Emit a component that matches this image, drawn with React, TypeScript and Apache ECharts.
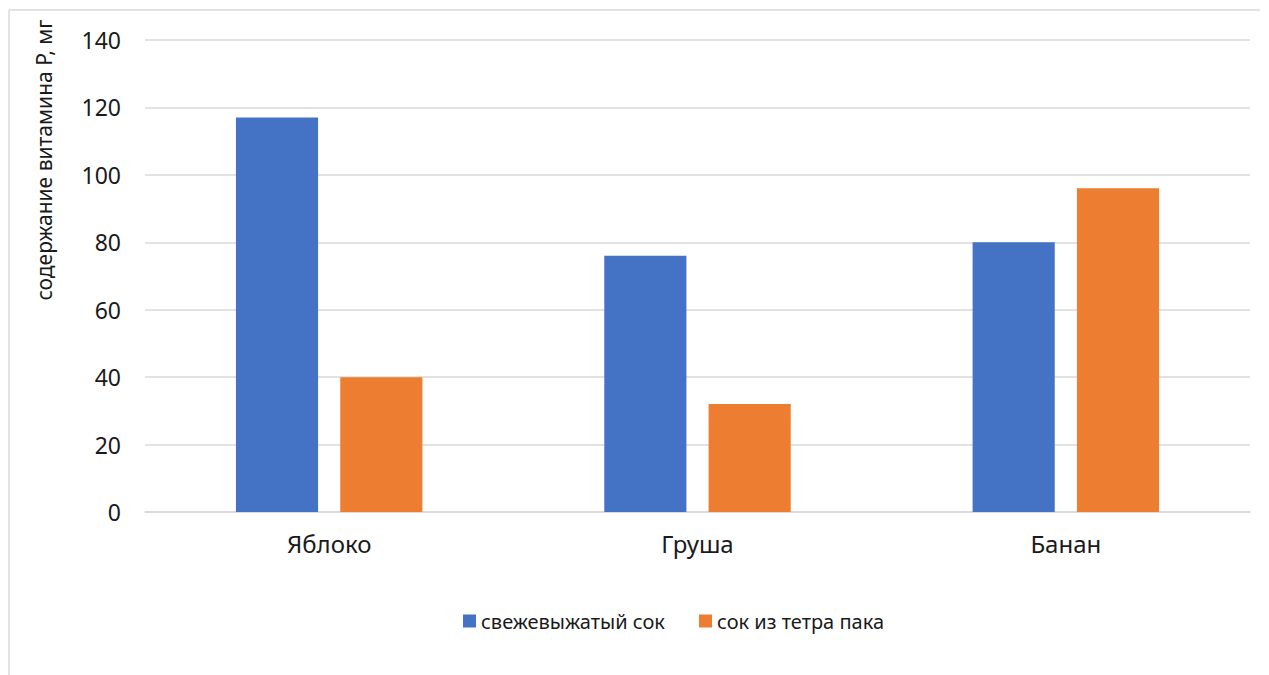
import React, { useEffect, useRef } from "react";
import * as echarts from "echarts";

const categories = ["Яблоко", "Груша", "Банан"];
const freshJuice = [117, 76, 80];
const packJuice = [40, 32, 96];
const seriesNames = ["свежевыжатый сок", "сок из тетра пака"];
const yTitle = "содержание витамина P, мг";

const FONT = '"Noto Sans", "DejaVu Sans", sans-serif';
const TEXT = "#1a1a1a";

export default function App() {
  const ref = useRef<HTMLDivElement>(null);

  useEffect(() => {
    document.body.style.margin = "0";
    const chart = echarts.init(ref.current!, null, { renderer: "svg" });
    chart.setOption({
      animation: false,
      backgroundColor: "#ffffff",
      textStyle: { fontFamily: FONT },
      grid: { left: 145, right: 19, top: 40, bottom: 163 },
      legend: {
        left: 458,
        top: 606,
        itemWidth: 13,
        itemHeight: 13,
        itemGap: 34,
        icon: "rect",
        textStyle: { fontSize: 20, color: TEXT, fontFamily: FONT },
        data: seriesNames,
      },
      xAxis: {
        type: "category",
        data: categories,
        axisLine: { lineStyle: { color: "#d9d9d9", width: 1.5 } },
        axisTick: { show: false },
        axisLabel: { fontSize: 24, color: TEXT, margin: 19, fontFamily: FONT },
      },
      yAxis: {
        type: "value",
        min: 0,
        max: 140,
        interval: 20,
        axisLine: { show: false },
        axisTick: { show: false },
        axisLabel: { fontSize: 23, color: TEXT, margin: 24, fontFamily: FONT },
        splitLine: { lineStyle: { color: "#d9d9d9", width: 1.5 } },
      },
      graphic: [
        {
          type: "line",
          shape: { x1: 9, y1: 10, x2: 1260, y2: 10 },
          style: { stroke: "#d9d9d9", lineWidth: 1.5 },
        },
        {
          type: "line",
          shape: { x1: 9, y1: 10, x2: 9, y2: 675 },
          style: { stroke: "#d9d9d9", lineWidth: 1.5 },
        },
        {
          type: "text",
          x: 44,
          y: 160,
          rotation: Math.PI / 2,
          style: {
            text: yTitle,
            fontSize: 21,
            fontFamily: FONT,
            fill: TEXT,
            textAlign: "center",
            textVerticalAlign: "middle",
          },
        },
      ],
      series: [
        {
          name: seriesNames[0],
          type: "bar",
          data: freshJuice,
          barWidth: "22.3%",
          barGap: "27%",
          itemStyle: { color: "#4472C4" },
        },
        {
          name: seriesNames[1],
          type: "bar",
          data: packJuice,
          barWidth: "22.3%",
          barGap: "27%",
          itemStyle: { color: "#ED7D31" },
        },
      ],
    });
    return () => chart.dispose();
  }, []);

  return <div ref={ref} style={{ width: 1269, height: 675 }} />;
}
